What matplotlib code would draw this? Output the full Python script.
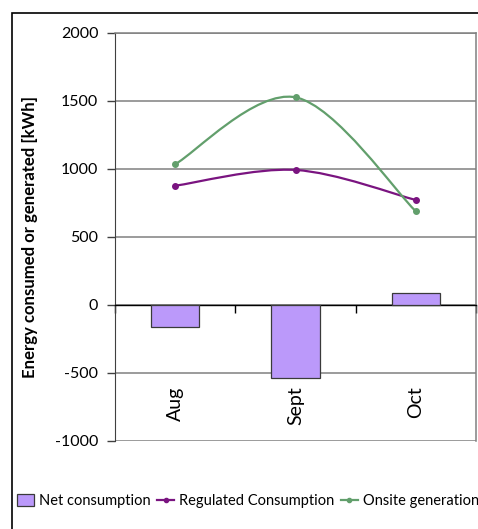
import matplotlib
matplotlib.use('Agg')
import matplotlib.pyplot as plt
import numpy as np
from matplotlib.path import Path
from matplotlib.patches import PathPatch, Rectangle
from matplotlib.lines import Line2D
from matplotlib.transforms import blended_transform_factory

plt.rcParams['font.family'] = ['Lato', 'DejaVu Sans']
plt.rcParams['axes.unicode_minus'] = False

months = ['Aug', 'Sept', 'Oct']
net_consumption = [-160, -535, 85]
regulated = [877, 993, 772]
onsite = [1035, 1527, 689]

bar_color = '#bb99fa'
reg_color = '#7a1480'
gen_color = '#629f6c'
grid_color = '#808080'


def smooth_path(xs, ys):
    # Excel style smoothed line: Catmull-Rom converted to cubic beziers
    pts = np.column_stack([xs, ys]).astype(float)
    ext = np.vstack([pts[0], pts, pts[-1]])
    verts = [tuple(pts[0])]
    codes = [Path.MOVETO]
    for i in range(len(pts) - 1):
        p0, p1, p2, p3 = ext[i], ext[i + 1], ext[i + 2], ext[i + 3]
        c1 = p1 + (p2 - p0) / 6
        c2 = p2 - (p3 - p1) / 6
        verts += [tuple(c1), tuple(c2), tuple(p2)]
        codes += [Path.CURVE4] * 3
    return Path(verts, codes)


fig = plt.figure(figsize=(4.78, 5.29), dpi=100)
ax = fig.add_axes([115 / 478, 88 / 529, 361 / 478, 408 / 529])

x = np.arange(len(months))
ax.bar(x, net_consumption, width=0.4, color=bar_color, edgecolor='#3a3a3a',
       linewidth=0.9, zorder=3)

for vals, col in [(regulated, reg_color), (onsite, gen_color)]:
    ax.add_patch(PathPatch(smooth_path(x, vals), facecolor='none', edgecolor=col,
                           linewidth=1.6, zorder=4))
    ax.plot(x, vals, linestyle='none', marker='o', markersize=4, color=col, zorder=5)

ax.set_xlim(-0.5, 2.5)
ax.set_ylim(-1000, 2000)
ax.set_yticks(np.arange(-1000, 2001, 500))
ax.yaxis.grid(True, color=grid_color, linewidth=1.1)
ax.set_axisbelow(True)
ax.tick_params(axis='y', direction='out', length=6, width=1.0, color='#404040',
               labelsize=11.5, pad=6)

ax.spines['bottom'].set_position(('data', 0))
ax.spines['bottom'].set_color('black')
ax.spines['bottom'].set_linewidth(1.0)
ax.spines['left'].set_color('#404040')
for s in ['top', 'right']:
    ax.spines[s].set_color(grid_color)
    ax.spines[s].set_linewidth(1.1)
ax.set_xticks([-0.5, 0.5, 1.5, 2.5])
ax.set_xticklabels([])
ax.tick_params(axis='x', direction='out', length=6, width=1.0, color='black')

trans = blended_transform_factory(ax.transData, ax.transData)
for i, m in enumerate(months):
    ax.text(i, -600, m, rotation=90, ha='center', va='top', fontsize=14, transform=trans)

ax.set_ylabel('Energy consumed or generated [kWh]', fontsize=12.1, fontweight='bold')
ax.yaxis.set_label_coords(-0.212, 0.5)

# outer chart border (cut off at the right and bottom)
fig.patches.append(Rectangle((12 / 478, -0.1), 1.2, (529 - 13) / 529 + 0.1,
                             transform=fig.transFigure, fill=False,
                             edgecolor='black', linewidth=1.2))

handles = [
    Rectangle((0, 0), 1, 1, facecolor=bar_color, edgecolor='#3a3a3a', linewidth=0.9),
    Line2D([], [], color=reg_color, marker='o', markersize=3, linewidth=1.6),
    Line2D([], [], color=gen_color, marker='o', markersize=3, linewidth=1.6),
]
labels = ['Net consumption', 'Regulated Consumption', 'Onsite generation']
fig.legend(handles, labels, loc='center left', bbox_to_anchor=(14 / 478, 28 / 529),
           ncol=3, frameon=False, fontsize=10.5, handlelength=1.2, handleheight=0.8,
           handletextpad=0.3, columnspacing=0.45, borderaxespad=0, borderpad=0.2)

fig.savefig('out.png', dpi=100)
